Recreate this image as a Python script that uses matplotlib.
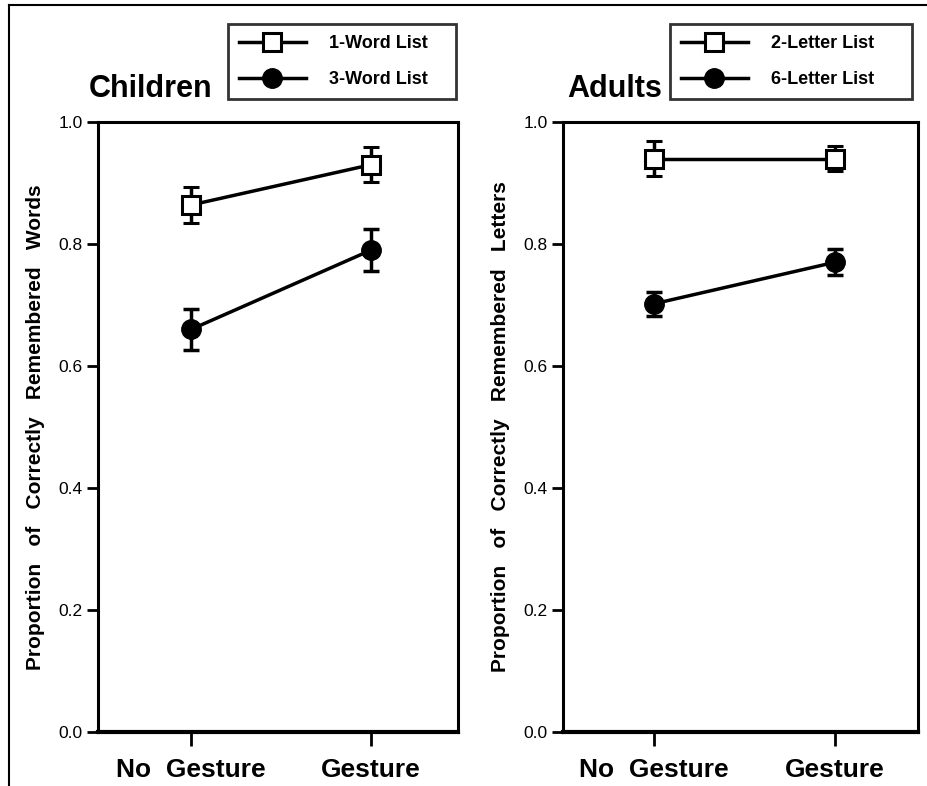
import matplotlib
matplotlib.use("Agg")
import matplotlib.pyplot as plt
from matplotlib.lines import Line2D

plt.rcParams['font.family'] = ['Liberation Sans', 'DejaVu Sans']

conditions = ["No  Gesture", "Gesture"]

child_1word = [0.864, 0.930]
child_1word_err = [0.030, 0.029]
child_3word = [0.660, 0.790]
child_3word_err = [0.034, 0.035]

adult_2letter = [0.940, 0.940]
adult_2letter_err = [0.029, 0.021]
adult_6letter = [0.702, 0.770]
adult_6letter_err = [0.020, 0.021]

W, H = 927, 786
fig = plt.figure(figsize=(W / 100, H / 100), dpi=100)

def px(x0, y0, x1, y1):
    return [x0 / W, 1 - y1 / H, (x1 - x0) / W, (y1 - y0) / H]

ax1 = fig.add_axes(px(98, 122, 458, 732))
ax2 = fig.add_axes(px(563, 122, 918, 732))

sp = "   "
panels = [
    (ax1, child_1word, child_1word_err, child_3word, child_3word_err,
     "1-Word List", "3-Word List", "Children",
     sp.join(["Proportion", "of", "Correctly", "Remembered", "Words"]), (-0.517, 1.483),
     (228, 24, 456, 100), 89),
    (ax2, adult_2letter, adult_2letter_err, adult_6letter, adult_6letter_err,
     "2-Letter List", "6-Letter List", "Adults",
     sp.join(["Proportion", "of", "Correctly", "Remembered", "Letters"]), (-0.503, 1.46),
     (670, 24, 912, 98), 567),
]

for (ax, s1, e1, s2, e2, l1, l2, title, ylab, xl, lbox, tx) in panels:
    x = list(range(len(conditions)))
    ax.errorbar(x, s1, yerr=e1, color='black', lw=2.5, marker='s', ms=13,
                mfc='white', mec='black', mew=2.2, capsize=6, capthick=2.5,
                elinewidth=2.5, zorder=3)
    ax.errorbar(x, s2, yerr=e2, color='black', lw=2.5, marker='o', ms=14,
                mfc='black', mec='black', capsize=6, capthick=2.5,
                elinewidth=2.5, zorder=3)
    ax.set_xlim(*xl)
    ax.set_ylim(0, 1.0)
    ax.set_yticks([0.0, 0.2, 0.4, 0.6, 0.8, 1.0])
    ax.set_yticklabels(["0.0", "0.2", "0.4", "0.6", "0.8", "1.0"])
    ax.set_xticks(x)
    ax.set_xticklabels(conditions, fontsize=19, fontweight='bold')
    ax.tick_params(axis='y', direction='out', length=8, width=2, labelsize=12.5, pad=3)
    ax.tick_params(axis='x', direction='out', length=10, width=2, pad=9)
    for s in ['left', 'right', 'top']:
        ax.spines[s].set_linewidth(2.2)
    ax.spines['bottom'].set_linewidth(3)
    ax.set_ylabel(ylab, fontsize=15, fontweight='bold', labelpad=10)

    handles = [
        Line2D([], [], color='black', lw=2.5, marker='s', ms=13, mfc='white',
               mec='black', mew=2.2),
        Line2D([], [], color='black', lw=2.5, marker='o', ms=14, mfc='black',
               mec='black'),
    ]
    x0, y0, x1, y1 = lbox
    leg = fig.legend(handles, [l1, l2], loc='upper left',
                     bbox_to_anchor=(x0 / W, 1 - y1 / H, (x1 - x0) / W, (y1 - y0) / H),
                     mode='expand', frameon=True, fancybox=False, edgecolor='black',
                     handlelength=3.7, handletextpad=1.3, borderpad=0.6,
                     labelspacing=1.07, prop={'weight': 'bold', 'size': 13},
                     borderaxespad=0)
    leg.get_frame().set_linewidth(2)
    fig.text(tx / W, 1 - 97 / H, title, fontsize=22, fontweight='bold',
             ha='left', va='baseline')

# figure frame lines (top and left)
fig.add_artist(Line2D([9 / W, 9 / W], [0, 1 - 5 / H], color='black', lw=1.5,
                      transform=fig.transFigure))
fig.add_artist(Line2D([9 / W, 1], [1 - 5 / H, 1 - 5 / H], color='black', lw=1.5,
                      transform=fig.transFigure))

fig.savefig("out.png", dpi=100)
